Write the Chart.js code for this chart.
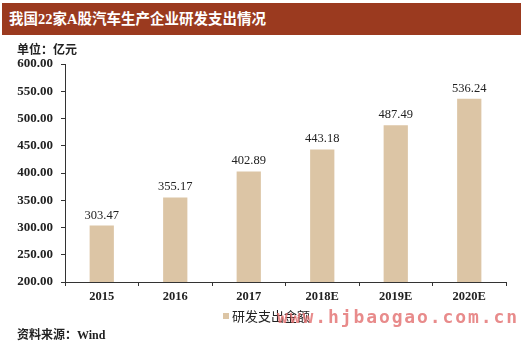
<!DOCTYPE html>
<html>
<head>
<meta charset="utf-8">
<script src="https://cdn.jsdelivr.net/npm/chart.js@4/dist/chart.umd.min.js"></script>
<style>
  html, body { margin: 0; padding: 0; background: #fff; }
  body { width: 525px; height: 347px; position: relative; overflow: hidden; }
  #titleBar {
    position: absolute; left: 2px; top: 3px; width: 519px; height: 32px;
    background: #9b3a1f; color: #fff;
    font: bold 14.5px "Liberation Serif", "Noto Sans CJK SC", serif;
    line-height: 32px; padding-left: 7px; box-sizing: border-box;
  }
  #unit { position: absolute; left: 17px; top: 40px; font: bold 12px "Liberation Serif", "Noto Sans CJK SC", serif; color: #222; }
  #source { position: absolute; left: 17px; top: 325px; font: bold 12px "Liberation Serif", "Noto Sans CJK SC", serif; color: #222; }
  #legend { position: absolute; left: 223px; top: 306px; font: 13px "Noto Sans CJK SC", sans-serif; color: #222; }
  #legend span { display: inline-block; width: 6px; height: 6px; background: #dcc5a5; margin-right: 3px; vertical-align: 2px; }
  #watermark {
    position: absolute; left: 277px; top: 306px; color: rgba(226, 110, 110, 0.8);
    font: bold 18px "DejaVu Sans Mono", monospace; letter-spacing: 1.9px;
  }
  #chartBox { position: absolute; left: 0; top: 0; width: 525px; height: 347px; }
</style>
</head>
<body>
<div id="chartBox"><canvas id="rdChart" width="525" height="347"></canvas></div>
<div id="titleBar">我国22家A股汽车生产企业研发支出情况</div>
<div id="unit">单位：亿元</div>
<div id="legend"><span></span>研发支出金额</div>
<div id="watermark">www.hjbaogao.com.cn</div>
<div id="source">资料来源：Wind</div>
<script>
const years = ['2015', '2016', '2017', '2018E', '2019E', '2020E'];
const rdSpend = [303.47, 355.17, 402.89, 443.18, 487.49, 536.24];
const yMin = 200;
const yMax = 600;
const yStep = 50;

// value labels above each bar
const barLabels = {
    id: 'barLabels',
    afterDatasetsDraw(chart) {
        const ctx = chart.ctx;
        const meta = chart.getDatasetMeta(0);
        ctx.save();
        ctx.font = '12.5px "Liberation Serif", serif';
        ctx.fillStyle = '#222';
        ctx.textAlign = 'center';
        ctx.textBaseline = 'bottom';
        meta.data.forEach(function (bar, i) {
            ctx.fillText(rdSpend[i].toFixed(2), bar.x, bar.y - 4);
        });
        ctx.restore();
    }
};

new Chart(document.getElementById('rdChart'), {
    type: 'bar',
    data: {
        labels: years,
        datasets: [{
            label: '研发支出金额',
            data: rdSpend,
            backgroundColor: '#dcc5a5',
            barPercentage: 0.33,
            categoryPercentage: 1
        }]
    },
    options: {
        responsive: false,
        animation: false,
        layout: { padding: { top: 64, right: 19, bottom: 0, left: 0 } },
        plugins: { legend: { display: false }, tooltip: { enabled: false } },
        scales: {
            x: {
                afterFit: function (s) { s.height = 65; },
                grid: { drawOnChartArea: false, tickLength: 4, color: '#333', offset: true },
                border: { color: '#333' },
                ticks: { color: '#222', padding: 3, maxRotation: 0, font: { family: '"Liberation Serif", serif', size: 12.5, weight: 'bold' } }
            },
            y: {
                min: yMin,
                max: yMax,
                afterFit: function (s) { s.width = 65; },
                grid: { drawOnChartArea: false, tickLength: 4, color: '#333' },
                border: { color: '#333' },
                ticks: {
                    stepSize: yStep,
                    padding: 8,
                    color: '#222',
                    font: { family: '"Liberation Serif", serif', size: 13, weight: 'bold' },
                    callback: function (v) { return v.toFixed(2); }
                }
            }
        }
    },
    plugins: [barLabels]
});
</script>
</body>
</html>
